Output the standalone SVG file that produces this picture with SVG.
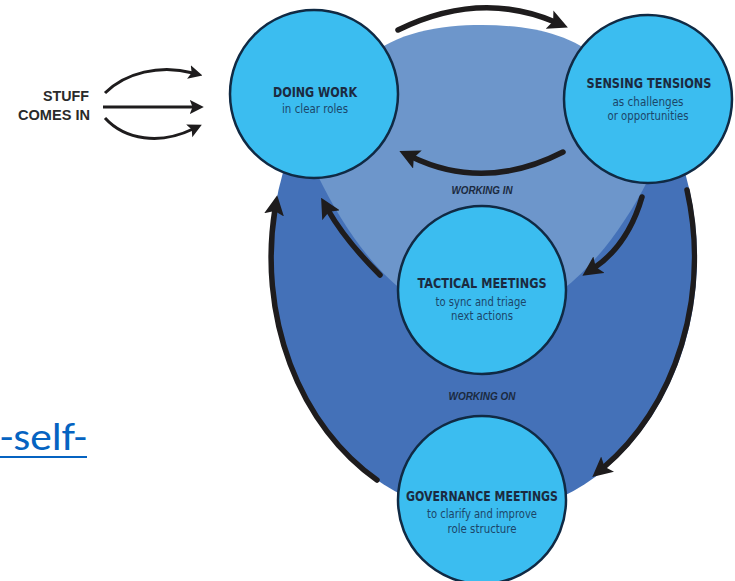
<svg xmlns="http://www.w3.org/2000/svg" width="735" height="581" viewBox="0 0 735 581">
<style>
.node{fill:#3bbdf0;stroke:#102a44;stroke-width:2.5}
.t{font-family:"DejaVu Sans Condensed","DejaVu Sans","Liberation Sans",sans-serif;font-stretch:condensed;font-weight:bold;font-size:14.5px;fill:#1b2a40;text-anchor:middle}
.s{font-family:"DejaVu Sans Condensed","DejaVu Sans","Liberation Sans",sans-serif;font-stretch:condensed;font-size:11.5px;fill:#1b4669;text-anchor:middle}
.w{font-family:"Liberation Sans",Arial,sans-serif;font-weight:bold;font-style:italic;font-size:10px;fill:#1b2a40;text-anchor:middle}
.stuff{font-family:"Liberation Sans",Arial,sans-serif;font-weight:bold;font-size:14px;fill:#2a2a2a;text-anchor:end}
.arc{fill:none;stroke:#1e1c1d;stroke-width:5.5;stroke-linecap:round}
.in{fill:none;stroke:#1e1c1d;stroke-width:3}
</style>
<defs>
<marker id="ah" viewBox="0 0 10 10" refX="3" refY="5" markerWidth="20" markerHeight="20" markerUnits="userSpaceOnUse" orient="auto">
<path d="M0,0 L10,5 L0,10 L2,5 Z" fill="#1e1c1d"/>
</marker>
<marker id="ahs" viewBox="0 0 10 10" refX="3" refY="5" markerWidth="14" markerHeight="15" markerUnits="userSpaceOnUse" orient="auto">
<path d="M0,0 L10,5 L0,10 L2,5 Z" fill="#1e1c1d"/>
</marker>
</defs>
<rect width="735" height="581" fill="#ffffff"/>
<g id="regions">
<path id="working-on-area" d="M287,160 A213 257 0 1 0 681,160 L640,100 L330,100 Z" fill="#4471b8"/>
<path id="working-in-area" d="M318,176 C340,222 370,265 402,290 L562,290 C595,265 625,225 648,180 L600,60 C570,32 524,25 482,25 C440,25 395,32 365,60 Z" fill="#6d96cb"/>
</g>
<g id="connectors">
<path class="arc" d="M398,30 Q480,-10 555,22" marker-end="url(#ah)"/>
<path class="arc" d="M563,152 Q485,192 412,157" marker-end="url(#ah)"/>
<path class="arc" d="M642,197 Q628,245 594,268" marker-end="url(#ah)"/>
<path class="arc" d="M380,275 Q345,240 328,210" marker-end="url(#ah)"/>
<path class="arc" d="M377,480 A213 257 0 0 1 275,209" marker-end="url(#ah)"/>
<path class="arc" d="M687,190 A213 257 0 0 1 603,468" marker-end="url(#ah)"/>
<path class="in" d="M105,93 C125,73 160,64 193,73" marker-end="url(#ahs)"/>
<path class="in" d="M103,107 L194,107" marker-end="url(#ahs)"/>
<path class="in" d="M105,118 C125,140 160,145 193,129" marker-end="url(#ahs)"/>
</g>
<g id="doing-work">
<circle class="node" cx="314" cy="94" r="84"/>
<text class="t" x="315" y="97" textLength="84" lengthAdjust="spacingAndGlyphs">DOING WORK</text>
<text class="s" x="315" y="113" textLength="66" lengthAdjust="spacingAndGlyphs">in clear roles</text>
</g>
<g id="sensing-tensions">
<circle class="node" cx="648" cy="99" r="84"/>
<text class="t" x="649" y="88" textLength="125" lengthAdjust="spacingAndGlyphs">SENSING TENSIONS</text>
<text class="s" x="648" y="106" textLength="71" lengthAdjust="spacingAndGlyphs">as challenges</text>
<text class="s" x="648" y="120" textLength="81" lengthAdjust="spacingAndGlyphs">or opportunities</text>
</g>
<g id="tactical-meetings">
<circle class="node" cx="482" cy="290" r="84"/>
<text class="t" x="482" y="288" textLength="129" lengthAdjust="spacingAndGlyphs">TACTICAL MEETINGS</text>
<text class="s" x="481" y="306" textLength="91" lengthAdjust="spacingAndGlyphs">to sync and triage</text>
<text class="s" x="482" y="320" textLength="62" lengthAdjust="spacingAndGlyphs">next actions</text>
</g>
<g id="governance-meetings">
<circle class="node" cx="482" cy="500" r="84"/>
<text class="t" x="482" y="501" textLength="152" lengthAdjust="spacingAndGlyphs">GOVERNANCE MEETINGS</text>
<text class="s" x="482" y="518" textLength="110" lengthAdjust="spacingAndGlyphs">to clarify and improve</text>
<text class="s" x="482" y="533" textLength="69" lengthAdjust="spacingAndGlyphs">role structure</text>
</g>
<g id="labels">
<text class="w" x="482" y="194" textLength="61" lengthAdjust="spacingAndGlyphs">WORKING IN</text>
<text class="w" x="482" y="400" textLength="67" lengthAdjust="spacingAndGlyphs">WORKING ON</text>
<text class="stuff" x="89" y="101" textLength="46" lengthAdjust="spacingAndGlyphs">STUFF</text>
<text class="stuff" x="90" y="120" textLength="72" lengthAdjust="spacingAndGlyphs">COMES IN</text>
</g>
<g id="link">
<text x="0" y="450" font-family="Carlito,'Open Sans','Liberation Sans',sans-serif" font-size="38" fill="#0563c1" textLength="87" lengthAdjust="spacingAndGlyphs">-self-</text>
<rect x="0" y="456" width="87" height="2" fill="#0563c1"/>
</g>
</svg>
